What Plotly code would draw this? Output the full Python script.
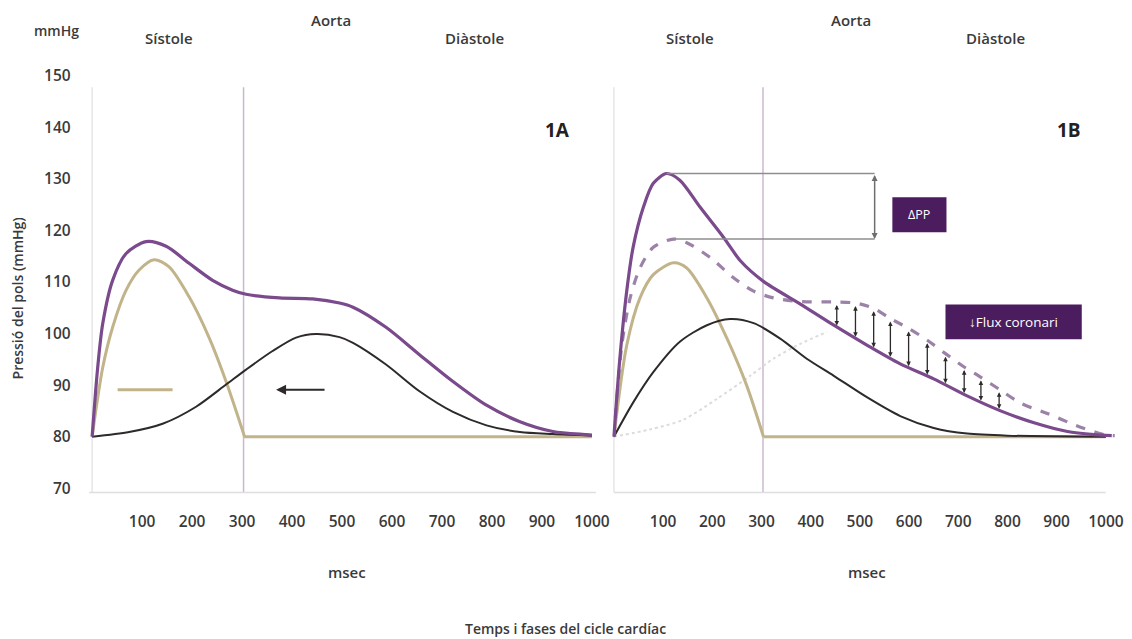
import numpy as np
import plotly.graph_objects as go

# ---- Panel 1A: time (ms) / pressure (mmHg) ----
a_aorta_t = [0, 11, 21, 41, 68, 108, 148, 194, 241, 281, 308, 375, 441, 495, 522, 588, 655, 722, 789, 856, 922, 989, 1000]
a_aorta_p = [80, 93.3, 101.8, 110.3, 115.5, 117.8, 116.9, 113.6, 110.3, 108.4, 107.6, 106.9, 106.7, 105.9, 105.1, 101.2, 95.9, 90.7, 86.1, 82.9, 81, 80.4, 80.3]

a_fwd_t = [0, 21, 41, 68, 94, 124, 154, 194, 234, 268, 305]
a_fwd_p = [80, 93.3, 101.2, 108.4, 112.3, 114.3, 112.9, 107.1, 99.2, 90.7, 80]

a_refl_t = [0, 74, 141, 208, 268, 308, 361, 408, 448, 495, 522, 588, 655, 722, 789, 856, 922, 1000]
a_refl_p = [80, 80.9, 82.5, 85.8, 90.1, 93, 96.6, 99.2, 99.9, 99.3, 98.2, 94, 88.8, 84.8, 82.2, 80.9, 80.5, 80.2]

# ---- Panel 1B ----
b_aorta_t = [0, 12, 26, 39, 60, 80, 107, 134, 175, 223, 257, 304, 379, 447, 515, 582, 650, 718, 786, 854, 922, 976, 1012]
b_aorta_p = [80, 95.1, 108.2, 116.7, 124.5, 129.1, 131, 129.7, 124.5, 118.6, 114.1, 110.1, 105.7, 101.6, 97.7, 94.1, 91.2, 87.9, 85, 82.7, 81, 80.4, 80.2]

b_young_t = [0, 16, 33, 53, 80, 121, 148, 196, 243, 284, 324, 379, 453, 491, 528, 562, 599, 637, 674, 712, 746, 783, 827, 881, 939, 996, 1018]
b_young_p = [80, 97.7, 106.9, 112.7, 116.7, 118.3, 117.6, 114.7, 110.8, 108.2, 106.9, 106.2, 106.1, 105.9, 104.9, 102.9, 101, 98.7, 96.1, 93.5, 91.5, 89.2, 86.5, 84.5, 82.2, 80.4, 80.2]

b_fwd_t = [0, 26, 53, 80, 121, 148, 189, 230, 270, 304]
b_fwd_p = [80, 97.7, 106.9, 111.4, 113.7, 112.7, 106.9, 99, 89.9, 80]

b_refl_t = [0, 39, 80, 134, 189, 236, 284, 338, 392, 447, 515, 582, 650, 718, 800, 1000]
b_refl_p = [80, 86.6, 92.5, 98.4, 101.6, 102.8, 102, 99, 95.1, 91.8, 87.6, 84, 81.7, 80.6, 80.2, 80]

b_late_t = [0, 73, 141, 209, 277, 324, 379, 433]
b_late_p = [80, 81.4, 83.3, 87.3, 91.8, 95.1, 98, 100.3]

# flat end of the forward wave after ejection
flat_t = [304, 1000]
flat_p = [80, 80]

# coronary flow loss markers (ms)
flux_t = [453, 491, 528, 562, 599, 637, 674, 712, 746, 783]

tick_vals = [100, 200, 300, 400, 500, 600, 700, 800, 900, 1000]
tick_text = [str(v) for v in tick_vals]
y_ticks = [70, 80, 90, 100, 110, 120, 130, 140, 150]

PURPLE = "#7a4a8c"
PURPLE_DASH = "#9c82a8"
TAN = "#c2b48a"
DARK = "#2e2a2a"
BOX = "#4b1c5e"
VLINE = "#c9b9cf"
TXT = "#3a3a3a"
FONT = "Open Sans"

W, H = 1132, 639
# layout grid: positions below are given on a 1132x639 sketch grid
SX, OX, SY, OY = 0.987, 1.0, 0.972, 11.5


def px(x):
    """sketch-grid x -> paper fraction"""
    return min(1.0, max(0.0, ((x - OX) / SX) / W))


def py(y):
    """sketch-grid y (from top) -> paper fraction"""
    return min(1.0, max(0.0, 1 - ((y - OY) / SY) / H))


fig = go.Figure()


def curve(t, p, color, width, xa, ya, dash="solid", spline=True):
    fig.add_trace(go.Scatter(
        x=t, y=p, mode="lines", xaxis=xa, yaxis=ya, hoverinfo="skip",
        line=dict(color=color, width=width, dash=dash,
                  shape="spline" if spline else "linear", smoothing=0.8),
    ))


# Panel 1A
curve(flat_t, flat_p, TAN, 3, "x", "y", spline=False)
curve(a_fwd_t, a_fwd_p, TAN, 3, "x", "y")
curve(a_refl_t, a_refl_p, DARK, 2, "x", "y")
curve(a_aorta_t, a_aorta_p, PURPLE, 3.2, "x", "y")

# Panel 1B
curve(b_late_t, b_late_p, "#dcdcdc", 2, "x2", "y2", dash="dot")
curve(flat_t, flat_p, TAN, 3, "x2", "y2", spline=False)
curve(b_fwd_t, b_fwd_p, TAN, 3, "x2", "y2")
curve(b_refl_t, b_refl_p, DARK, 2, "x2", "y2")
curve(b_young_t, b_young_p, PURPLE_DASH, 3.2, "x2", "y2", dash="dash")
curve(b_aorta_t, b_aorta_p, PURPLE, 3.2, "x2", "y2")

shapes = []
annotations = []

# base lines
shapes.append(dict(type="line", xref="paper", yref="paper", x0=px(90), x1=px(596),
                   y0=py(492), y1=py(492), line=dict(color="#dedede", width=1.5)))
shapes.append(dict(type="line", xref="paper", yref="paper", x0=px(614), x1=px(1105),
                   y0=py(492), y1=py(492), line=dict(color="#dedede", width=1.5)))
for xr, yr in (("x", "y"), ("x2", "y2")):
    shapes.append(dict(type="line", xref=xr, yref=yr, x0=0, x1=0, y0=69.2, y1=147.7,
                       line=dict(color="#e6e6e6", width=1.5), layer="below"))
    shapes.append(dict(type="line", xref=xr, yref=yr, x0=303, x1=303, y0=69.2, y1=147.7,
                       line=dict(color=VLINE, width=1.5), layer="below"))

# 1A wave direction markers
arrow_y = 89.1
shapes.append(dict(type="line", xref="x", yref="y", x0=51, x1=161, y0=arrow_y, y1=arrow_y,
                   line=dict(color=TAN, width=3)))
annotations.append(dict(x=368, y=arrow_y, ax=468, ay=arrow_y, xref="x", yref="y",
                        axref="x", ayref="y", text="", showarrow=True, arrowhead=2,
                        arrowsize=1, arrowwidth=2, arrowcolor=DARK))

# 1B pulse pressure bracket
pk_i = int(np.argmax(b_aorta_p))
pk_j = int(np.argmax(b_young_p))
pp_hi, pp_lo = b_aorta_p[pk_i], b_young_p[pk_j]
bracket_x = 530
shapes.append(dict(type="line", xref="x2", yref="y2", x0=b_aorta_t[pk_i], x1=bracket_x,
                   y0=pp_hi, y1=pp_hi, line=dict(color="#8e8e8e", width=1.5)))
shapes.append(dict(type="line", xref="x2", yref="y2", x0=b_young_t[pk_j], x1=bracket_x,
                   y0=pp_lo, y1=pp_lo, line=dict(color="#8e8e8e", width=1.5)))
annotations.append(dict(x=bracket_x, y=pp_lo, ax=bracket_x, ay=pp_hi, xref="x2", yref="y2",
                        axref="x2", ayref="y2", text="", showarrow=True, arrowhead=2,
                        arrowside="end+start", arrowsize=0.8, arrowwidth=1.5,
                        arrowcolor="#6e6e6e"))

# coronary flow markers between the two pressure curves
young_at = np.interp(flux_t, b_young_t, b_young_p)
aorta_at = np.interp(flux_t, b_aorta_t, b_aorta_p)
for t, top, bot in zip(flux_t, young_at, aorta_at):
    annotations.append(dict(x=t, y=bot + 0.3, ax=t, ay=top - 0.3, xref="x2", yref="y2",
                            axref="x2", ayref="y2", text="", showarrow=True, arrowhead=2,
                            arrowside="end+start", arrowsize=0.7, arrowwidth=1.3,
                            arrowcolor=DARK))

# labelled boxes
shapes.append(dict(type="rect", xref="x2", yref="y2", x0=566, x1=676, y0=119.6, y1=126.4,
                   fillcolor=BOX, line=dict(width=0)))
annotations.append(dict(x=621, y=123, xref="x2", yref="y2", text="ΔPP", showarrow=False,
                        font=dict(family=FONT, size=12.5, color="white")))
shapes.append(dict(type="rect", xref="x2", yref="y2", x0=674, x1=951, y0=98.9, y1=105.6,
                   fillcolor=BOX, line=dict(width=0)))
annotations.append(dict(x=812, y=102.25, xref="x2", yref="y2", text="↓Flux coronari",
                        showarrow=False, font=dict(family=FONT, size=13.5, color="white")))


def label(x, y, text, size=15, weight=600, color=TXT, **kw):
    annotations.append(dict(x=px(x), y=py(y), xref="paper", yref="paper", text=text,
                            showarrow=False, xanchor="center", yanchor="middle",
                            font=dict(family=FONT, size=size, color=color, weight=weight), **kw))


label(57, 30, "mmHg", size=14)
for off in (0, 520):
    label(170 + off, 38, "Sístole")
    label(331 + off, 20, "Aorta")
    label(475 + off, 38, "Diàstole")
    label(347 + off, 572, "msec")
label(558, 130, "1A", size=19, weight=700, color="#222222")
label(1068, 130, "1B", size=19, weight=700, color="#222222")
label(566, 628, "Temps i fases del cicle cardíac", size=14)
label(18, 298, "Pressió del pols (mmHg)", size=14, textangle=-90)

tickfont = dict(family=FONT, size=15.5, color=TXT, weight=600)
xcommon = dict(showgrid=False, zeroline=False, showline=False, ticks="",
               tickvals=tick_vals, ticktext=tick_text, tickfont=tickfont,
               ticklabelstandoff=18, fixedrange=True)
ycommon = dict(showgrid=False, zeroline=False, showline=False, ticks="",
               range=[69.2, 150], domain=[py(492), py(75)], fixedrange=True)

fig.update_layout(
    width=W, height=H, margin=dict(l=0, r=0, t=0, b=0),
    paper_bgcolor="white", plot_bgcolor="white", showlegend=False,
    xaxis=dict(domain=[px(90.5), px(597)], range=[-5, 1010], anchor="y", **xcommon),
    xaxis2=dict(domain=[px(612.5), px(612.5 + 1023 * 0.4912)], range=[-3, 1020],
                anchor="y2", **xcommon),
    yaxis=dict(anchor="x", tickvals=y_ticks, tickfont=tickfont, ticklabelstandoff=18, **ycommon),
    yaxis2=dict(anchor="x2", showticklabels=False, **ycommon),
    shapes=shapes, annotations=annotations,
)

fig.write_html("out.html")
